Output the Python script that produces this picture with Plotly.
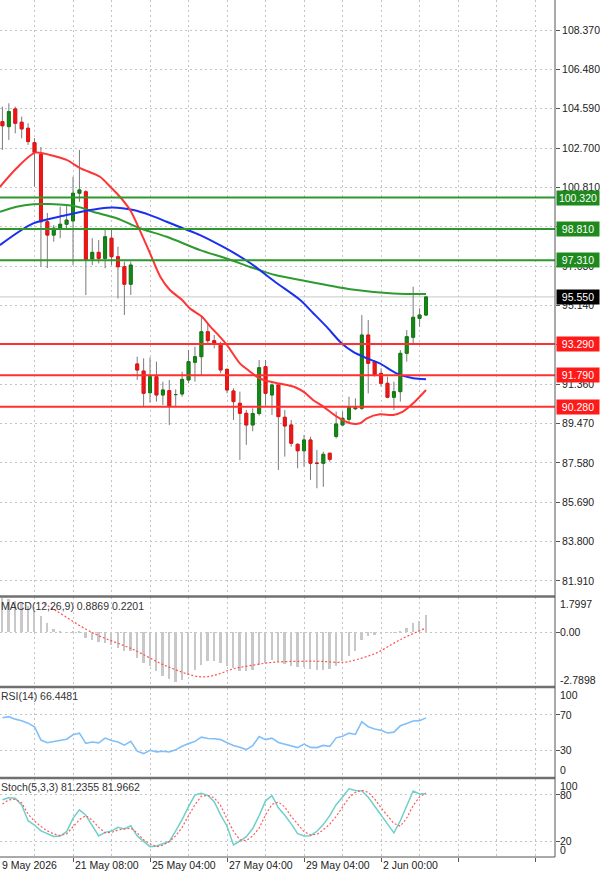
import plotly.graph_objects as go

# ---------------- data ----------------
bars = list(range(67))
opens = [103.97, 103.73, 104.58, 103.94, 103.65, 102.96, 102.40, 99.16, 98.52, 98.85,
         99.04, 99.20, 100.53, 100.60, 97.37, 97.69, 97.40, 98.37, 97.48, 97.00,
         96.16, 92.33, 91.99, 90.95, 91.72, 90.84, 91.05, 90.86, 90.89, 91.56,
         92.41, 92.68, 93.88, 93.45, 93.30, 92.07, 91.03, 90.44, 89.96, 89.40,
         89.95, 92.20, 90.84, 91.32, 89.77, 89.40, 88.47, 88.16, 88.68, 87.56,
         87.56, 88.04, 88.85, 89.40, 89.67, 90.18, 90.20, 93.72, 92.44, 91.88,
         91.40, 90.73, 91.00, 92.84, 93.61, 94.52, 94.68]
highs = [104.69, 104.85, 104.69, 104.21, 103.89, 103.17, 102.75, 99.58, 99.00, 99.88,
         99.97, 101.32, 102.61, 100.68, 98.37, 98.28, 98.85, 98.85, 97.96, 97.24,
         97.24, 92.68, 92.60, 92.65, 92.44, 91.48, 91.56, 91.11, 91.96, 93.00,
         93.16, 94.60, 94.30, 93.72, 93.40, 92.12, 91.16, 91.00, 90.12, 90.20,
         92.52, 92.52, 91.40, 91.40, 90.12, 89.64, 88.52, 88.92, 88.84, 88.20,
         88.12, 88.07, 90.04, 90.04, 90.76, 90.68, 94.68, 94.44, 92.52, 92.12,
         91.72, 91.48, 93.00, 93.96, 96.04, 95.00, 95.55]
lows = [102.61, 103.09, 103.41, 103.17, 102.85, 100.85, 97.00, 96.94, 98.20, 98.37,
        98.76, 97.08, 100.12, 95.64, 97.08, 97.16, 96.92, 97.08, 95.48, 94.68,
        95.64, 91.56, 90.28, 90.47, 90.52, 90.36, 89.40, 90.28, 90.76, 91.40,
        91.48, 91.80, 93.32, 93.08, 91.88, 90.92, 89.64, 87.72, 88.44, 89.10,
        89.85, 90.28, 89.88, 87.24, 87.88, 88.36, 87.32, 87.40, 86.76, 86.36,
        86.43, 87.63, 88.75, 89.35, 89.48, 90.12, 90.12, 90.92, 91.72, 91.24,
        90.68, 90.12, 90.52, 92.44, 93.32, 94.12, 94.63]
closes = [103.77, 104.45, 103.89, 103.62, 103.01, 102.49, 99.16, 98.52, 98.85, 99.04,
          99.24, 100.53, 100.69, 97.32, 97.69, 97.40, 98.44, 97.48, 97.00, 96.16,
          97.08, 92.04, 90.92, 91.72, 90.84, 91.08, 90.28, 90.86, 91.59, 92.44,
          92.68, 93.88, 93.45, 93.30, 92.04, 91.08, 90.52, 89.96, 89.40, 89.95,
          92.15, 90.92, 91.32, 89.80, 89.35, 88.52, 88.16, 88.68, 87.56, 87.56,
          87.99, 87.75, 89.45, 89.72, 90.28, 90.22, 93.72, 92.36, 91.80, 91.40,
          90.73, 91.00, 92.84, 93.64, 94.57, 94.68, 95.55]

red_ma_x = [-0.38, 2.2, 5.1, 7.4, 10.0, 12.1, 15.2, 16.8, 18.3, 19.9, 21.4, 23.0, 24.6, 26.1,
            28.0, 29.2, 31.1, 32.4, 33.4, 35.0, 37.0, 38.6, 39.6, 40.7, 42.5, 44.3, 45.6,
            46.9, 48.4, 50.0, 52.1, 54.2, 55.7, 56.8, 58.8, 60.9, 62.4, 64.0, 66.0]
red_ma_y = [100.84, 101.73, 102.48, 102.37, 102.13, 101.74, 101.32, 100.84, 100.36, 99.72,
            98.76, 97.64, 96.52, 95.88, 95.40, 95.00, 94.60, 94.12, 93.80, 93.24, 92.36,
            91.96, 91.72, 91.56, 91.43, 91.32, 91.21, 91.00, 90.60, 90.28, 89.80, 89.48,
            89.48, 89.72, 89.91, 89.88, 90.04, 90.44, 91.08]
blue_ma_x = [-0.38, 4.8, 10.0, 13.1, 15.2, 17.2, 20.4, 23.0, 25.6, 28.1, 30.8, 34.7, 38.6,
             42.5, 46.4, 48.4, 50.5, 52.6, 54.6, 56.8, 58.8, 61.4, 64.0, 66.0]
blue_ma_y = [98.04, 99.08, 99.48, 99.69, 99.80, 99.85, 99.72, 99.48, 99.16, 98.85, 98.52,
             97.90, 97.18, 96.27, 95.40, 94.78, 94.12, 93.40, 92.92, 92.60, 92.36, 91.88,
             91.64, 91.59]
green_ma_x = [-0.38, 2.2, 4.8, 7.4, 10.0, 12.1, 14.1, 17.8, 21.4, 25.6, 30.8, 34.7, 38.6,
              42.5, 46.4, 54.2, 60.9, 66.0]
green_ma_y = [99.64, 99.88, 100.00, 100.01, 99.96, 99.85, 99.64, 99.33, 98.85, 98.44, 97.80,
              97.42, 96.99, 96.60, 96.36, 95.92, 95.72, 95.69]

resist_levels = [100.32, 98.81, 97.31]
support_levels = [93.29, 91.79, 90.28]
last_price = 95.55
price_ticks = [108.37, 106.48, 104.59, 102.70, 100.81, 98.92, 97.03, 95.14, 93.25,
               91.36, 89.47, 87.58, 85.69, 83.80, 81.91]

macd_hist = [1.75, 1.70, 1.62, 1.50, 1.35, 1.10, 0.82, 0.48, 0.17, 0.05,
             -0.03, 0.02, 0.03, -0.29, -0.37, -0.51, -0.54, -0.63, -0.80, -0.97,
             -0.97, -1.31, -1.56, -1.73, -1.99, -2.24, -2.40, -2.55, -2.42, -2.16,
             -1.90, -1.65, -1.48, -1.48, -1.56, -1.70, -1.82, -1.99, -1.99, -1.90,
             -1.65, -1.56, -1.39, -1.53, -1.60, -1.70, -1.77, -1.77, -1.87, -1.90,
             -1.90, -1.87, -1.73, -1.48, -1.22, -0.97, -0.37, -0.20, -0.12, -0.07,
             -0.03, -0.03, 0.05, 0.22, 0.48, 0.56, 0.8869]
macd_sig_x = [6.5, 8.5, 13.1, 15.2, 20.4, 25.6, 30.8, 33.4, 35.9, 38.6, 42.2, 46.4, 49.5,
              53.1, 55.2, 58.3, 62.0, 66.0]
macd_sig_y = [1.46, 1.07, 0.14, -0.20, -0.88, -1.73, -2.27, -2.16, -1.87, -1.70, -1.53,
              -1.48, -1.48, -1.53, -1.39, -1.05, -0.37, 0.2201]
macd_min, macd_max = -2.7898, 1.7997

rsi = [66.5, 67.8, 65.0, 63.3, 60.5, 56.5, 41.5, 38.5, 39.8, 41.5,
       42.5, 47.5, 49.3, 37.8, 39.3, 38.3, 43.7, 41.0, 39.3, 35.8,
       40.0, 29.0, 26.3, 30.0, 28.2, 28.9, 28.1, 30.5, 34.5, 37.5,
       40.0, 44.8, 43.2, 43.0, 42.0, 38.5, 35.5, 33.5, 30.8, 35.2,
       45.6, 42.0, 43.7, 38.8, 37.0, 35.0, 33.0, 37.0, 33.3, 33.0,
       35.5, 34.4, 44.0, 45.8, 49.3, 47.8, 62.2, 56.5, 54.0, 52.5,
       49.5, 50.4, 57.5, 60.0, 63.0, 63.3, 66.4481]
stoch_k = [73.5, 76.0, 75.4, 66.7, 46.5, 41.0, 33.5, 29.5, 26.3, 26.9,
           32.5, 49.6, 60.5, 53.5, 40.0, 27.0, 31.6, 33.3, 38.0, 35.9,
           40.2, 27.0, 20.0, 13.3, 14.0, 17.3, 19.8, 33.5, 48.0, 64.5,
           79.5, 81.6, 79.0, 71.0, 54.0, 39.5, 15.4, 20.5, 26.1, 36.5,
           53.0, 72.0, 78.6, 63.0, 53.5, 42.5, 30.0, 27.0, 27.3, 33.0,
           41.5, 53.0, 67.0, 77.0, 87.5, 85.2, 84.8, 76.5, 65.5, 53.5,
           42.0, 31.0, 46.5, 66.5, 84.6, 80.8, 81.2355]
stoch_d = [68.0, 73.1, 74.0, 69.5, 55.0, 46.0, 39.0, 33.5, 29.5, 27.5,
           29.5, 38.5, 48.0, 53.0, 47.4, 38.0, 31.0, 31.5, 34.6, 36.0,
           37.0, 31.0, 22.0, 17.0, 13.2, 15.0, 20.0, 27.0, 38.0, 53.0,
           67.0, 78.0, 79.0, 76.0, 66.0, 49.0, 33.0, 22.0, 21.0, 27.0,
           37.0, 54.0, 67.5, 70.5, 64.0, 52.0, 42.0, 32.5, 28.3, 29.0,
           35.0, 42.0, 52.0, 64.0, 76.0, 83.0, 85.5, 83.0, 74.5, 63.0,
           53.0, 43.0, 39.5, 50.0, 66.0, 77.0, 81.9662]

# first label is cut at the left edge in the reference; only "9 May 2026" is visible
time_label_bars = [11, 23, 35, 47, 59]
time_labels = ["21 May 08:00", "25 May 04:00", "27 May 04:00", "29 May 04:00", "2 Jun 00:00"]
first_time_label = "9 May 2026"

# ---------------- layout constants ----------------
W, H = 600, 873
XMIN, XMAX = -0.377, 86.1
XDOM = 555 / 600
FONT = "Liberation Sans, Arial, sans-serif"
FS = 10.5
GRID = "#c4c4c4"


def py(pix):
    return 1 - pix / H


fig = go.Figure()

# candle wicks (gray)
fig.add_trace(go.Candlestick(
    x=bars, open=opens, high=highs, low=lows, close=closes,
    increasing=dict(line=dict(color="#7a7a7a", width=1), fillcolor="rgba(0,0,0,0)"),
    decreasing=dict(line=dict(color="#7a7a7a", width=1), fillcolor="rgba(0,0,0,0)"),
    whiskerwidth=0, hoverinfo="skip", xaxis="x", yaxis="y"))
# candle bodies
body_hi = [max(o, c) for o, c in zip(opens, closes)]
body_lo = [min(o, c) for o, c in zip(opens, closes)]
fig.add_trace(go.Candlestick(
    x=bars, open=opens, high=body_hi, low=body_lo, close=closes,
    increasing=dict(line=dict(color="#127a12", width=1), fillcolor="#138a13"),
    decreasing=dict(line=dict(color="#e81010", width=1), fillcolor="#f21515"),
    whiskerwidth=0, hoverinfo="skip", xaxis="x", yaxis="y"))

# moving averages
for mx, my, col in [(green_ma_x, green_ma_y, "#2f9a2f"),
                    (blue_ma_x, blue_ma_y, "#1a30f0"),
                    (red_ma_x, red_ma_y, "#ff3535")]:
    fig.add_trace(go.Scatter(x=mx, y=my, mode="lines",
                             line=dict(color=col, width=2, shape="spline", smoothing=0.8),
                             hoverinfo="skip", xaxis="x", yaxis="y"))

# MACD
fig.add_trace(go.Bar(x=bars, y=macd_hist, width=0.28, marker=dict(color="#c8c8c8", line=dict(width=0)),
                     hoverinfo="skip", xaxis="x", yaxis="y2"))
fig.add_trace(go.Scatter(x=macd_sig_x, y=macd_sig_y, mode="lines",
                         line=dict(color="#ff5050", width=1.2, dash="2px,2px", shape="spline"),
                         hoverinfo="skip", xaxis="x", yaxis="y2"))
# RSI
fig.add_trace(go.Scatter(x=bars, y=rsi, mode="lines", line=dict(color="#82bff8", width=1.6),
                         hoverinfo="skip", xaxis="x", yaxis="y3"))
# Stoch
fig.add_trace(go.Scatter(x=bars, y=stoch_k, mode="lines", line=dict(color="#6fd0cb", width=1.5),
                         hoverinfo="skip", xaxis="x", yaxis="y4"))
fig.add_trace(go.Scatter(x=bars, y=stoch_d, mode="lines",
                         line=dict(color="#ff5a5a", width=1.2, dash="2px,2px"),
                         hoverinfo="skip", xaxis="x", yaxis="y4"))

shapes = []
# bid line
shapes.append(dict(type="line", xref="paper", yref="y", x0=0, x1=XDOM, y0=last_price, y1=last_price,
                   line=dict(color="#c8c8c8", width=1), layer="below"))
# levels
for lv in resist_levels:
    shapes.append(dict(type="line", xref="paper", yref="y", x0=0, x1=XDOM, y0=lv, y1=lv,
                       line=dict(color="#2e982e", width=2)))
for lv in support_levels:
    shapes.append(dict(type="line", xref="paper", yref="y", x0=0, x1=XDOM, y0=lv, y1=lv,
                       line=dict(color="#ff3030", width=2)))
# panel separators
for sep in [596.5, 687, 778]:
    shapes.append(dict(type="line", xref="paper", yref="paper", x0=0, x1=XDOM,
                       y0=py(sep), y1=py(sep), line=dict(color="#707070", width=2.5)))
shapes.append(dict(type="line", xref="paper", yref="paper", x0=0, x1=XDOM,
                   y0=py(857), y1=py(857), line=dict(color="#555555", width=1)))
shapes.append(dict(type="line", xref="paper", yref="paper", x0=XDOM, x1=XDOM,
                   y0=py(857), y1=1, line=dict(color="#555555", width=1)))

annotations = []
# level labels
for lv in resist_levels:
    annotations.append(dict(text=f"{lv:.3f}", xref="paper", yref="y", x=556 / W, y=lv,
                            xanchor="left", yanchor="middle", showarrow=False, bgcolor="#1e8a1e",
                            width=40, borderpad=1, font=dict(family=FONT, size=FS, color="white")))
for lv in support_levels:
    annotations.append(dict(text=f"{lv:.3f}", xref="paper", yref="y", x=556 / W, y=lv,
                            xanchor="left", yanchor="middle", showarrow=False, bgcolor="#ff1a1a",
                            width=40, borderpad=1, font=dict(family=FONT, size=FS, color="white")))
annotations.append(dict(text=f"{last_price:.3f}", xref="paper", yref="y", x=556 / W, y=last_price,
                        xanchor="left", yanchor="middle", showarrow=False, bgcolor="#000000",
                        width=40, borderpad=1, font=dict(family=FONT, size=FS, color="white")))

# indicator axis labels
ind_labels = [("y2", macd_max, f"{macd_max:.4f}", "top"), ("y2", 0, "0.00", "middle"),
              ("y2", macd_min, f"{macd_min:.4f}", "bottom"),
              ("y3", 100, "100", "top"), ("y3", 70, "70", "middle"), ("y3", 30, "30", "middle"),
              ("y3", 0, "0", "bottom"),
              ("y4", 100, "100", "top"), ("y4", 80, "80", "middle"), ("y4", 20, "20", "middle"),
              ("y4", 0, "0", "bottom")]
for yr, v, t, anc in ind_labels:
    annotations.append(dict(text=t, xref="paper", yref=yr, x=559 / W, y=v, xanchor="left",
                            yanchor=anc, showarrow=False, borderpad=0,
                            font=dict(family=FONT, size=FS, color="#222")))

# indicator titles
titles = [("MACD(12,26,9) 0.8869 0.2201", 599), ("RSI(14) 66.4481", 689),
          ("Stoch(5,3,3) 81.2355 81.9662", 780)]
for t, top in titles:
    annotations.append(dict(text=t, xref="paper", yref="paper", x=0, y=py(top), xanchor="left",
                            yanchor="top", showarrow=False, borderpad=0,
                            font=dict(family=FONT, size=FS, color="#333")))

# time labels
for b, t in zip(time_label_bars, time_labels):
    annotations.append(dict(text=t, xref="x", yref="paper", x=b, y=py(865), xanchor="left",
                            yanchor="middle", xshift=1, showarrow=False, borderpad=0,
                            font=dict(family=FONT, size=FS, color="#222")))
annotations.append(dict(text=first_time_label, xref="paper", yref="paper", x=1 / W, y=py(865),
                        xanchor="left", yanchor="middle", showarrow=False, borderpad=0,
                        font=dict(family=FONT, size=FS, color="#222")))

major_x = [b for b in range(-1, 90, 12)]
minor_x = [b for b in range(5, 90, 12)]

common_y = dict(side="right", anchor="x", zeroline=False, showline=False,
                showgrid=True, gridcolor=GRID, griddash="2px,3px", gridwidth=1,
                ticks="outside", ticklen=4, tickcolor="#555", fixedrange=True)

fig.update_layout(
    width=W, height=H, margin=dict(l=0, r=0, t=0, b=0),
    paper_bgcolor="white", plot_bgcolor="white", showlegend=False,
    boxgap=0.35, bargap=0,
    xaxis=dict(domain=[0, XDOM], range=[XMIN, XMAX], anchor="y4",
               tickmode="array", tickvals=major_x, showticklabels=False,
               ticks="outside", ticklen=4, tickcolor="#555",
               showgrid=True, gridcolor=GRID, griddash="2px,3px", gridwidth=1,
               minor=dict(tickmode="array", tickvals=minor_x, showgrid=True, gridcolor=GRID,
                          griddash="2px,3px", gridwidth=1, ticks=""),
               zeroline=False, showline=False, rangeslider=dict(visible=False), fixedrange=True),
    yaxis=dict(domain=[py(596), 1], range=[81.185, 109.811], tickmode="array",
               tickvals=price_ticks, ticktext=[f"{v:.3f}" for v in price_ticks],
               tickfont=dict(family=FONT, size=FS, color="#222"), **common_y),
    yaxis2=dict(domain=[py(687), py(597)], range=[macd_min, macd_max], tickmode="array",
                tickvals=[0], showticklabels=False, **common_y),
    yaxis3=dict(domain=[py(777), py(688)], range=[0, 100], tickmode="array",
                tickvals=[30, 70], showticklabels=False, **common_y),
    yaxis4=dict(domain=[py(857), py(779)], range=[0, 100], tickmode="array",
                tickvals=[20, 80], showticklabels=False, **common_y),
    shapes=shapes, annotations=annotations,
)

fig.write_html("out.html")
